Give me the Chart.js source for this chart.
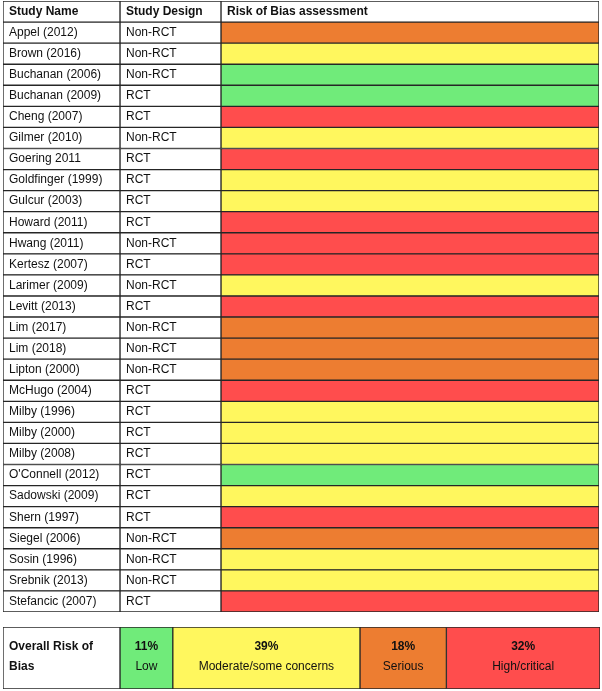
<!DOCTYPE html>
<html>
<head>
<meta charset="utf-8">
<title>Risk of Bias assessment</title>
<script src="https://cdn.jsdelivr.net/npm/chart.js@4"></script>
<style>
  html, body { margin: 0; padding: 0; background: #fff; }
  #wrap { width: 602px; height: 691px; position: relative; }
  #tableBox { position: absolute; left: 0; top: 0; width: 602px; height: 615px; }
  #summaryBox { position: absolute; left: 0; top: 624px; width: 602px; height: 67px; }
</style>
</head>
<body>
<div id="wrap">
  <div id="tableBox"><canvas id="tableChart"></canvas></div>
  <div id="summaryBox"><canvas id="summaryChart"></canvas></div>
</div>
<script>
// Data
const HEADERS = ['Study Name', 'Study Design', 'Risk of Bias assessment'];
const STUDIES = [
  'Appel (2012)', 'Brown (2016)', 'Buchanan (2006)', 'Buchanan (2009)', 'Cheng (2007)',
  'Gilmer (2010)', 'Goering 2011', 'Goldfinger (1999)', 'Gulcur (2003)', 'Howard (2011)',
  'Hwang (2011)', 'Kertesz (2007)', 'Larimer (2009)', 'Levitt (2013)', 'Lim (2017)',
  'Lim (2018)', 'Lipton (2000)', 'McHugo (2004)', 'Milby (1996)', 'Milby (2000)',
  'Milby (2008)', "O'Connell (2012)", 'Sadowski (2009)', 'Shern (1997)', 'Siegel (2006)',
  'Sosin (1996)', 'Srebnik (2013)', 'Stefancic (2007)'
];
const DESIGNS = [
  'Non-RCT', 'Non-RCT', 'Non-RCT', 'RCT', 'RCT',
  'Non-RCT', 'RCT', 'RCT', 'RCT', 'RCT',
  'Non-RCT', 'RCT', 'Non-RCT', 'RCT', 'Non-RCT',
  'Non-RCT', 'Non-RCT', 'RCT', 'RCT', 'RCT',
  'RCT', 'RCT', 'RCT', 'RCT', 'Non-RCT',
  'Non-RCT', 'Non-RCT', 'RCT'
];
const RISK = [
  'Serious', 'Moderate', 'Low', 'Low', 'High',
  'Moderate', 'High', 'Moderate', 'Moderate', 'High',
  'High', 'High', 'Moderate', 'High', 'Serious',
  'Serious', 'Serious', 'High', 'Moderate', 'Moderate',
  'Moderate', 'Low', 'Moderate', 'High', 'Serious',
  'Moderate', 'Moderate', 'High'
];
const LEVELS = ['Low', 'Moderate', 'Serious', 'High'];
const LEVEL_LABELS = ['Low', 'Moderate/some concerns', 'Serious', 'High/critical'];
const OVERALL_PCT = [11, 39, 18, 32];
const OVERALL_TITLE = ['Overall Risk of', 'Bias'];

// Styles
const LEVEL_COLORS = { Low: '#70eb7a', Moderate: '#fff75e', Serious: '#ed7d31', High: '#ff4d4d' };
const LINE = '#262626';
const FONT = "'Liberation Sans', Arial, sans-serif";
const TEXT = '#111';
// column edges of the table, in x-scale units (1 unit = 1px)
const COL_EDGES = [0, 117, 218, 596];
// label cell of the summary row, in percent units of the x scale
const SUMMARY_LABEL_W = 117 / 480 * 100;

const barBase = {
  grouped: false,
  categoryPercentage: 1,
  barPercentage: 1,
  borderColor: LINE,
  borderWidth: 1,
  borderSkipped: false
};

// Table
const rowLabels = ['header', ...STUDIES];

const tableText = {
  id: 'tableText',
  afterDatasetsDraw(chart) {
    const { ctx, scales: { x, y } } = chart;
    ctx.save();
    ctx.fillStyle = TEXT;
    ctx.textBaseline = 'middle';
    ctx.textAlign = 'left';
    rowLabels.forEach((_, i) => {
      const yc = y.getPixelForValue(i);
      if (i === 0) {
        ctx.font = `bold 12px ${FONT}`;
        HEADERS.forEach((h, c) => ctx.fillText(h, x.getPixelForValue(COL_EDGES[c]) + 6, yc));
      } else {
        ctx.font = `12px ${FONT}`;
        ctx.fillText(STUDIES[i - 1], x.getPixelForValue(COL_EDGES[0]) + 6, yc);
        ctx.fillText(DESIGNS[i - 1], x.getPixelForValue(COL_EDGES[1]) + 6, yc);
      }
    });
    ctx.restore();
  }
};

new Chart(document.getElementById('tableChart'), {
  type: 'bar',
  data: {
    labels: rowLabels,
    datasets: [
      { ...barBase, label: HEADERS[0], data: rowLabels.map(() => [COL_EDGES[0], COL_EDGES[1]]), backgroundColor: '#fff' },
      { ...barBase, label: HEADERS[1], data: rowLabels.map(() => [COL_EDGES[1], COL_EDGES[2]]), backgroundColor: '#fff' },
      {
        ...barBase,
        label: HEADERS[2],
        data: rowLabels.map(() => [COL_EDGES[2], COL_EDGES[3]]),
        backgroundColor: ['#fff', ...RISK.map(r => LEVEL_COLORS[r])]
      }
    ]
  },
  options: {
    indexAxis: 'y',
    responsive: true,
    maintainAspectRatio: false,
    animation: false,
    layout: { padding: { left: 3, right: 3, top: 1, bottom: 3 } },
    plugins: { legend: { display: false }, tooltip: { enabled: false } },
    scales: {
      x: { type: 'linear', min: COL_EDGES[0], max: COL_EDGES[3], display: false },
      y: { display: false }
    }
  },
  plugins: [tableText]
});

// Summary row
let cum = 0;
const levelRanges = OVERALL_PCT.map(p => { const r = [cum, cum + p]; cum += p; return r; });

const summaryText = {
  id: 'summaryText',
  afterDatasetsDraw(chart) {
    const { ctx, scales: { x, y } } = chart;
    const yc = y.getPixelForValue(0);
    ctx.save();
    ctx.fillStyle = TEXT;
    ctx.textBaseline = 'middle';
    ctx.font = `bold 12px ${FONT}`;
    ctx.textAlign = 'left';
    const lx = x.getPixelForValue(-SUMMARY_LABEL_W) + 6;
    ctx.fillText(OVERALL_TITLE[0], lx, yc - 11);
    ctx.fillText(OVERALL_TITLE[1], lx, yc + 9);
    ctx.textAlign = 'center';
    levelRanges.forEach((r, i) => {
      const xc = (x.getPixelForValue(r[0]) + x.getPixelForValue(r[1])) / 2;
      ctx.font = `bold 12px ${FONT}`;
      ctx.fillText(`${OVERALL_PCT[i]}%`, xc, yc - 11);
      ctx.font = `12px ${FONT}`;
      ctx.fillText(LEVEL_LABELS[i], xc, yc + 9);
    });
    ctx.restore();
  }
};

new Chart(document.getElementById('summaryChart'), {
  type: 'bar',
  data: {
    labels: ['Overall'],
    datasets: [
      { ...barBase, label: OVERALL_TITLE.join(' '), data: [[-SUMMARY_LABEL_W, 0]], backgroundColor: '#fff' },
      ...LEVELS.map((lv, i) => ({
        ...barBase,
        label: LEVEL_LABELS[i],
        data: [levelRanges[i]],
        backgroundColor: LEVEL_COLORS[lv]
      }))
    ]
  },
  options: {
    indexAxis: 'y',
    responsive: true,
    maintainAspectRatio: false,
    animation: false,
    layout: { padding: { left: 3, right: 2, top: 3, bottom: 2 } },
    plugins: { legend: { display: false }, tooltip: { enabled: false } },
    scales: {
      x: { type: 'linear', min: -SUMMARY_LABEL_W, max: 100, display: false },
      y: { display: false }
    }
  },
  plugins: [summaryText]
});
</script>
</body>
</html>
